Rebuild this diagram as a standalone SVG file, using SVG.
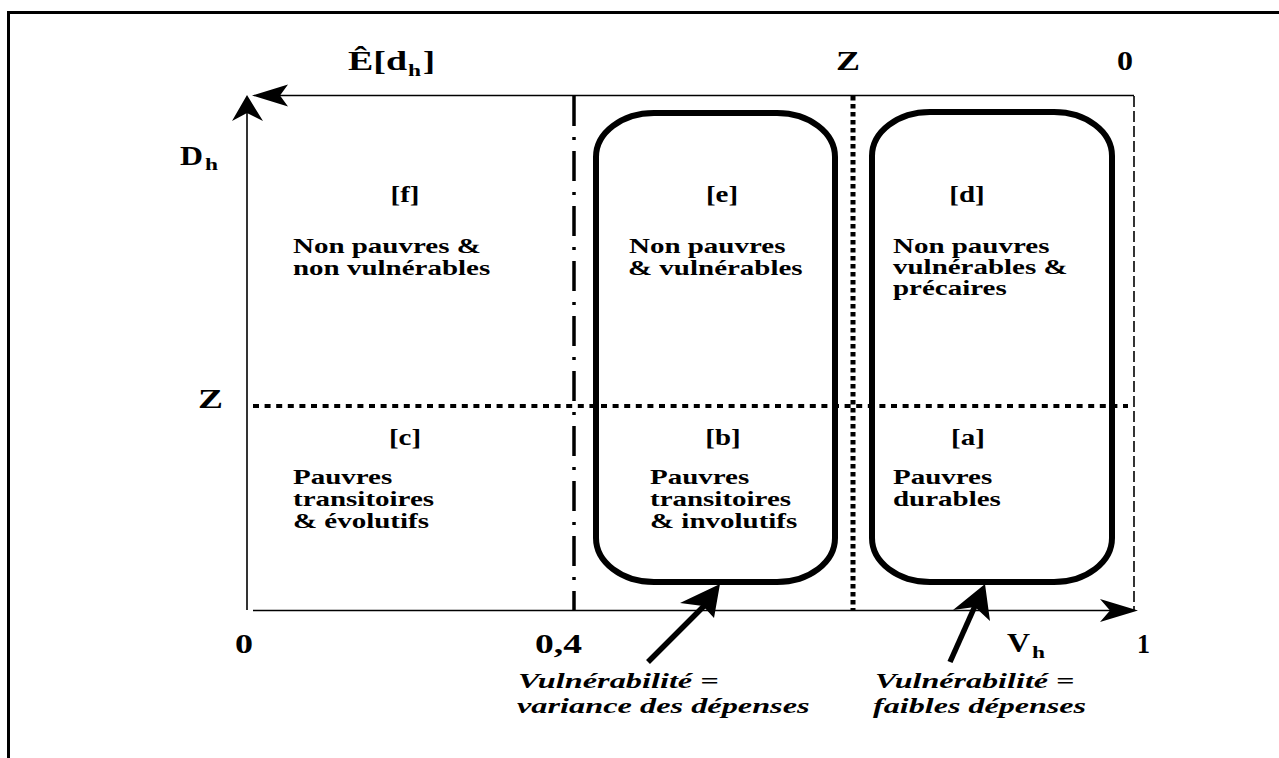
<svg xmlns="http://www.w3.org/2000/svg" width="1279" height="758" viewBox="0 0 1279 758">
<style>
  text { font-family: "Liberation Serif", "Times New Roman", serif; font-weight: bold; fill: #000; }
  .ax { font-size: 27px; }
  .sub { font-size: 17px; }
  .b { font-size: 21px; }
  .br { font-size: 23px; }
  .it { font-size: 22px; font-style: italic; }
  .thin { stroke: #000; stroke-width: 1.6; fill: none; }
  .box { fill: none; stroke: #000; stroke-width: 6; }
  .ptr { stroke: #000; stroke-width: 5.5; fill: none; }
</style>
<rect width="1279" height="758" fill="#fff"/>
<g id="frame">
  <path d="M8.5 758 V12.5 H1279" fill="none" stroke="#000" stroke-width="3"/>
</g>
<g id="connectors">
  <line class="thin" x1="247" y1="610" x2="247" y2="112" stroke-width="2"/>
  <polygon points="247,95 263,121 247,113 232,121" fill="#000"/>
  <line class="thin" x1="280" y1="95.5" x2="1134" y2="95.5"/>
  <polygon points="252,95.5 288,84.5 280,95.5 288,106.5" fill="#000"/>
  <line class="thin" x1="253" y1="610.5" x2="1112" y2="610.5"/>
  <polygon points="1138,610.5 1100,599 1110,610.5 1100,622" fill="#000"/>
  <line x1="1134" y1="96" x2="1134" y2="610" stroke="#000" stroke-width="1.6" stroke-dasharray="11 4"/>
  <line x1="253" y1="406" x2="1128" y2="406" stroke="#000" stroke-width="4" stroke-dasharray="6 5.6"/>
  <line x1="853" y1="96" x2="853" y2="610" stroke="#000" stroke-width="5" stroke-dasharray="4.5 3.5"/>
  <line x1="574" y1="96" x2="574" y2="610" stroke="#000" stroke-width="3.5" stroke-dasharray="30 11 3 11"/>
  <line class="ptr" x1="648" y1="662" x2="704" y2="606"/>
  <polygon points="720,584 714,618 703,606 680,603" fill="#000"/>
  <line class="ptr" x1="950" y1="662" x2="975" y2="606"/>
  <polygon points="985,584 990,621 975,607 953,610" fill="#000"/>
</g>
<g id="axis-labels">
  <text class="ax" x="348" y="70" textLength="59" lengthAdjust="spacingAndGlyphs">Ê[d</text>
  <text class="sub" x="408" y="76" textLength="13" lengthAdjust="spacingAndGlyphs">h</text>
  <text class="ax" x="423" y="70" textLength="12" lengthAdjust="spacingAndGlyphs">]</text>
  <text class="ax" x="836" y="70" textLength="24" lengthAdjust="spacingAndGlyphs">Z</text>
  <text class="ax" x="1117" y="70" textLength="16" lengthAdjust="spacingAndGlyphs">0</text>
  <text class="ax" x="180" y="165" textLength="23" lengthAdjust="spacingAndGlyphs">D</text>
  <text class="sub" x="205" y="170" textLength="13" lengthAdjust="spacingAndGlyphs">h</text>
  <text class="ax" x="198" y="408" textLength="25" lengthAdjust="spacingAndGlyphs">Z</text>
  <text class="ax" x="235" y="653" textLength="18" lengthAdjust="spacingAndGlyphs">0</text>
  <text class="ax" x="535" y="653" textLength="47" lengthAdjust="spacingAndGlyphs">0,4</text>
  <text class="ax" x="1007" y="652" textLength="23" lengthAdjust="spacingAndGlyphs">V</text>
  <text class="sub" x="1032" y="658" textLength="13" lengthAdjust="spacingAndGlyphs">h</text>
  <text class="ax" x="1137" y="653" textLength="13" lengthAdjust="spacingAndGlyphs">1</text>
</g>
<g id="box-vulnerable-variance">
  <rect class="box" x="596" y="113" width="239" height="469" rx="58" ry="44"/>
</g>
<g id="box-vulnerable-low">
  <rect class="box" x="872" y="112" width="240" height="470" rx="58" ry="44"/>
</g>
<g id="region-f">
  <text class="br" text-anchor="middle" transform="translate(405 202) scale(1.26 1)">[f]</text>
  <text class="b" transform="translate(293 253) scale(1.38 1)">Non pauvres &amp;</text>
  <text class="b" transform="translate(293 275) scale(1.38 1)">non vulnérables</text>
</g>
<g id="region-e">
  <text class="br" text-anchor="middle" transform="translate(722 202) scale(1.26 1)">[e]</text>
  <text class="b" transform="translate(629 253) scale(1.38 1)">Non pauvres</text>
  <text class="b" transform="translate(628 275) scale(1.38 1)">&amp; vulnérables</text>
</g>
<g id="region-d">
  <text class="br" text-anchor="middle" transform="translate(967 202) scale(1.26 1)">[d]</text>
  <text class="b" transform="translate(893 253) scale(1.38 1)">Non pauvres</text>
  <text class="b" transform="translate(893 274) scale(1.38 1)">vulnérables &amp;</text>
  <text class="b" transform="translate(893 295) scale(1.38 1)">précaires</text>
</g>
<g id="region-c">
  <text class="br" text-anchor="middle" transform="translate(405 445) scale(1.26 1)">[c]</text>
  <text class="b" transform="translate(293 484) scale(1.38 1)">Pauvres</text>
  <text class="b" transform="translate(293 506) scale(1.38 1)">transitoires</text>
  <text class="b" transform="translate(293 528) scale(1.38 1)">&amp; évolutifs</text>
</g>
<g id="region-b">
  <text class="br" text-anchor="middle" transform="translate(723 445) scale(1.26 1)">[b]</text>
  <text class="b" transform="translate(650 484) scale(1.38 1)">Pauvres</text>
  <text class="b" transform="translate(650 506) scale(1.38 1)">transitoires</text>
  <text class="b" transform="translate(650 528) scale(1.38 1)">&amp; involutifs</text>
</g>
<g id="region-a">
  <text class="br" text-anchor="middle" transform="translate(968 445) scale(1.26 1)">[a]</text>
  <text class="b" transform="translate(893 484) scale(1.38 1)">Pauvres</text>
  <text class="b" transform="translate(893 506) scale(1.38 1)">durables</text>
</g>
<g id="note-variance">
  <text class="it" transform="translate(518 688) scale(1.47 1)">Vulnérabilité =</text>
  <text class="it" transform="translate(517 713) scale(1.47 1)">variance des dépenses</text>
</g>
<g id="note-low">
  <text class="it" transform="translate(875 688) scale(1.46 1)">Vulnérabilité =</text>
  <text class="it" transform="translate(873 713) scale(1.46 1)">faibles dépenses</text>
</g>
</svg>
